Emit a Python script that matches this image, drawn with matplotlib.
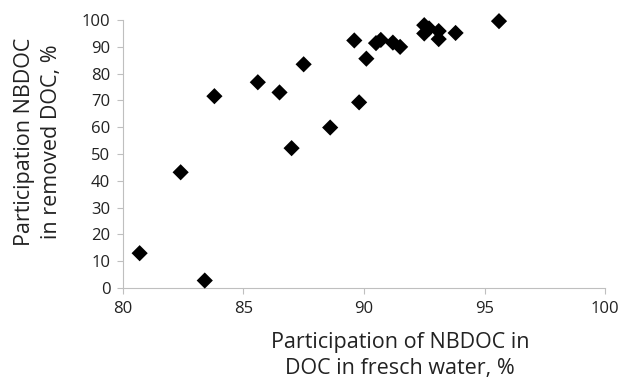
import matplotlib
matplotlib.use("Agg")
import matplotlib.pyplot as plt

# Participation of NBDOC in DOC in fresh water, %
nbdoc_fresh = [80.7, 82.4, 83.4, 83.8, 85.6, 86.5, 87.0, 87.5, 88.6, 89.6, 89.8,
               90.1, 90.5, 90.7, 91.2, 91.5, 92.5, 92.5, 92.7, 93.1, 93.1, 93.8, 95.6]
# Participation NBDOC in removed DOC, %
nbdoc_removed = [13.0, 43.2, 2.8, 71.6, 76.8, 73.0, 52.2, 83.5, 59.9, 92.4, 69.3,
                 85.6, 91.4, 92.6, 91.6, 90.0, 98.1, 95.0, 96.9, 95.9, 92.9, 95.2, 99.6]

x_ticks = [80, 85, 90, 95, 100]
y_ticks = list(range(0, 101, 10))

plt.rcParams["font.family"] = ["Open Sans", "DejaVu Sans"]

fig = plt.figure(figsize=(6.2, 3.79), dpi=100)
ax = fig.add_axes([0.198, 0.240, 0.778, 0.707])

ax.scatter(nbdoc_fresh, nbdoc_removed, marker="D", s=68, color="black",
           edgecolors="none", zorder=3, clip_on=False)

ax.set_xlim(80, 100)
ax.set_ylim(0, 100)
ax.set_xticks(x_ticks)
ax.set_yticks(y_ticks)

for side in ["top", "right"]:
    ax.spines[side].set_visible(False)
for side in ["left", "bottom"]:
    ax.spines[side].set_color("#bfbfbf")
ax.tick_params(colors="#bfbfbf", labelcolor="#222222", labelsize=12, length=4,
               pad=5)

fig.text(0.645, 0.062, "Participation of NBDOC in\nDOC in fresch water, %",
         ha="center", va="center", fontsize=15.5, color="#222222", linespacing=1.35)
fig.text(0.061, 0.625, "Participation NBDOC\nin removed DOC, %",
         ha="center", va="center", rotation=90, fontsize=15.5, color="#222222",
         linespacing=1.35)

fig.savefig("out.png", dpi=100)
